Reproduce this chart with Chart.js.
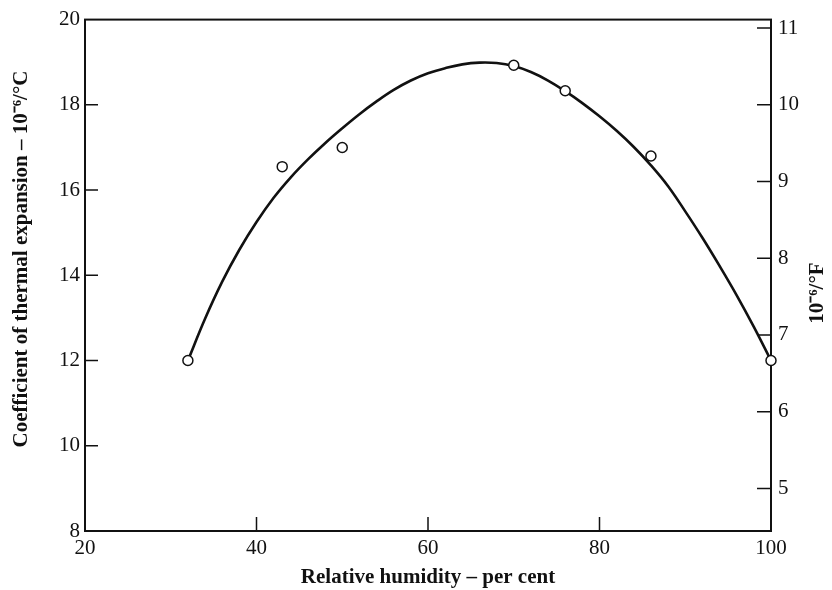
<!DOCTYPE html>
<html>
<head>
<meta charset="utf-8">
<script src="https://cdn.jsdelivr.net/npm/chart.js@4.4.0/dist/chart.umd.min.js"></script>
<style>
  html, body { margin: 0; padding: 0; background: #fff; }
  #wrap { width: 832px; height: 590px; }
</style>
</head>
<body>
<div id="wrap"><canvas id="humChart" width="832" height="590"></canvas></div>
<script>
// measured points (humidity %, coefficient 10^-6/°C)
const pointX = [32, 43, 50, 70, 76, 86, 100];
const pointY = [12.0, 16.55, 17.0, 18.93, 18.33, 16.8, 12.0];

// fitted curve
const curveX = [32, 34, 36, 38, 40, 42, 44, 46, 48, 50, 52, 54, 56, 58, 60, 62, 64, 66, 68,
                70, 72, 74, 76, 78, 80, 82, 84, 86, 88, 90, 92, 94, 96, 98, 100];
const curveY = [12.0, 12.98, 13.85, 14.6, 15.25, 15.82, 16.3, 16.72, 17.1, 17.45, 17.78, 18.08,
                18.35, 18.57, 18.74, 18.86, 18.95, 18.99, 18.98, 18.91, 18.77, 18.57, 18.32, 18.04,
                17.73, 17.39, 17.01, 16.58, 16.09, 15.5, 14.88, 14.22, 13.53, 12.79, 12.0];

const xTicks = [20, 40, 60, 80, 100];
const leftTicks = [8, 10, 12, 14, 16, 18, 20];
const rightTicks = [5, 6, 7, 8, 9, 10, 11];

const INK = "#111";
const serif = "'Liberation Serif', 'Times New Roman', serif";

// inward ticks, frame and the rotated titles
const framePlugin = {
  id: "frame",
  beforeDatasetsDraw(chart) {
    const c = chart.ctx;
    const a = chart.chartArea;
    const sx = chart.scales.x, sy = chart.scales.y, sy1 = chart.scales.y1;
    c.save();
    c.strokeStyle = INK;
    c.lineWidth = 2;
    c.strokeRect(a.left, a.top, a.right - a.left, a.bottom - a.top);
    c.lineWidth = 1.5;
    c.beginPath();
    xTicks.slice(1, -1).forEach(v => {
      const px = sx.getPixelForValue(v);
      c.moveTo(px, a.bottom); c.lineTo(px, a.bottom - 14);
    });
    leftTicks.slice(1, -1).forEach(v => {
      const py = sy.getPixelForValue(v);
      c.moveTo(a.left, py); c.lineTo(a.left + 13, py);
    });
    rightTicks.forEach(v => {
      const py = sy1.getPixelForValue(v);
      c.moveTo(a.right, py); c.lineTo(a.right - 14, py);
    });
    c.stroke();
    c.restore();
  },
  afterDraw(chart) {
    const c = chart.ctx;
    c.save();
    c.fillStyle = INK;
    c.font = "bold 21px " + serif;
    c.textAlign = "center";
    c.textBaseline = "middle";
    c.fillText("Relative humidity \u2013 per cent", 428, 578);
    c.translate(22, 259);
    c.rotate(-Math.PI / 2);
    c.fillText("Coefficient of thermal expansion \u2013 10\u207B\u2076/\u00B0C", 0, 0);
    c.restore();
    c.save();
    c.fillStyle = INK;
    c.font = "bold 21px " + serif;
    c.textAlign = "center";
    c.textBaseline = "middle";
    c.translate(818, 293);
    c.rotate(-Math.PI / 2);
    c.fillText("10\u207B\u2076/\u00B0F", 0, 0);
    c.restore();
  }
};

const tickFont = { family: serif, size: 21 };

new Chart(document.getElementById("humChart"), {
  type: "scatter",
  data: {
    datasets: [
      {
        label: "curve",
        data: curveX.map((x, i) => ({ x: x, y: curveY[i] })),
        showLine: true,
        borderColor: INK,
        borderWidth: 2.6,
        pointRadius: 0,
        tension: 0.4,
        order: 2
      },
      {
        label: "measured",
        data: pointX.map((x, i) => ({ x: x, y: pointY[i] })),
        pointRadius: 5,
        pointBackgroundColor: "#fff",
        pointBorderColor: INK,
        pointBorderWidth: 1.5,
        clip: false,
        order: 1
      }
    ]
  },
  options: {
    responsive: false,
    animation: false,
    layout: { padding: { top: 16, left: 0, right: 0, bottom: 0 } },
    plugins: {
      legend: { display: false },
      tooltip: { enabled: false }
    },
    scales: {
      x: {
        type: "linear",
        min: 20,
        max: 100,
        grid: { display: false, drawTicks: false },
        border: { display: false },
        ticks: { color: INK, font: tickFont, padding: 5, maxRotation: 0 },
        afterBuildTicks: s => { s.ticks = xTicks.map(v => ({ value: v })); },
        afterFit: s => { s.height = 59; }
      },
      y: {
        position: "left",
        min: 8,
        max: 20,
        grid: { display: false, drawTicks: false },
        border: { display: false },
        ticks: { color: INK, font: tickFont, padding: 5 },
        afterBuildTicks: s => { s.ticks = leftTicks.map(v => ({ value: v })); },
        afterFit: s => { s.width = 85; }
      },
      y1: {
        position: "right",
        min: 8 / 1.8,
        max: 20 / 1.8,
        grid: { display: false, drawTicks: false },
        border: { display: false },
        ticks: { color: INK, font: tickFont, padding: 7 },
        afterBuildTicks: s => { s.ticks = rightTicks.map(v => ({ value: v })); },
        afterFit: s => { s.width = 61; }
      }
    }
  },
  plugins: [framePlugin]
});
</script>
</body>
</html>
